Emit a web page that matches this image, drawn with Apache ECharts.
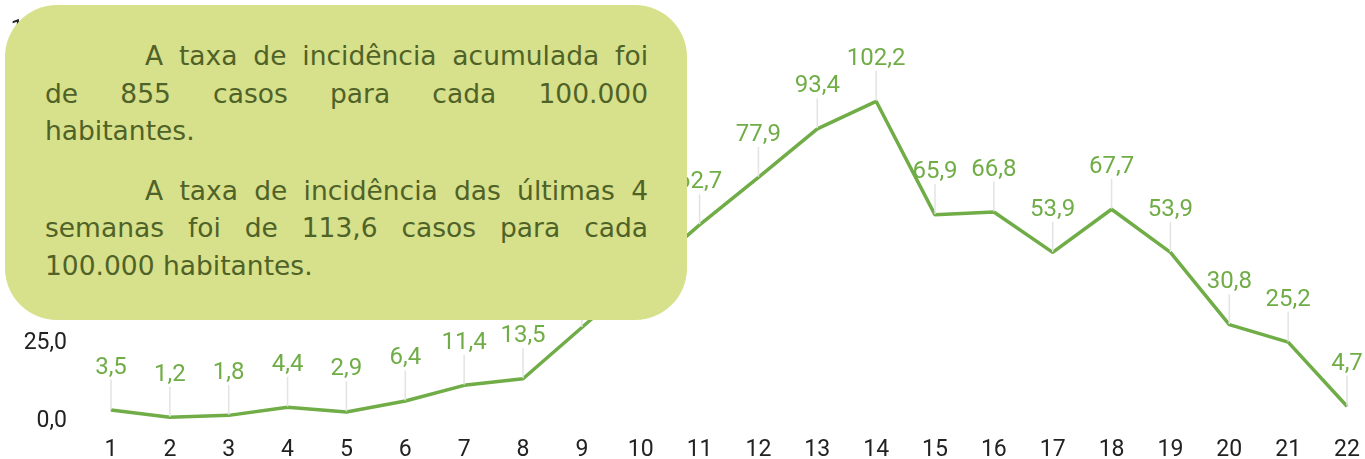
<!DOCTYPE html>
<html>
<head>
<meta charset="utf-8">
<script src="https://cdn.jsdelivr.net/npm/echarts@6/dist/echarts.min.js"></script>
<style>
  html, body { margin: 0; padding: 0; background: #fff; }
  #main { width: 1365px; height: 459px; }
  .nota {
    position: absolute; left: 5px; top: 5px; width: 682px; height: 315px;
    background: #d7e08a; border-radius: 52px;
    box-sizing: border-box; padding: 32px 39px 0 40px;
    font-family: "DejaVu Sans", sans-serif; font-size: 26.5px; color: #4f6228;
    line-height: 37.5px;
  }
  .nota .l { text-align: justify; text-align-last: justify; white-space: nowrap; }
  .nota .last { text-align: left; text-align-last: left; }
  .nota .ind { padding-left: 100px; }
  .nota .gap { height: 22px; }
</style>
</head>
<body>
<div id="main"></div>
<div class="nota">
  <div class="l ind">A taxa de incidência acumulada foi</div>
  <div class="l">de 855 casos para cada 100.000</div>
  <div class="l last">habitantes.</div>
  <div class="gap"></div>
  <div class="l ind">A taxa de incidência das últimas 4</div>
  <div class="l">semanas foi de 113,6 casos para cada</div>
  <div class="l last">100.000 habitantes.</div>
</div>
<script>
// semanas epidemiológicas
var semanas = ['1', '2', '3', '4', '5', '6', '7', '8', '9', '10', '11',
    '12', '13', '14', '15', '16', '17', '18', '19', '20', '21', '22'];

// taxa de incidência por semana (9 e 10 estimadas, escondidas pela caixa)
var taxas = [3.5, 1.2, 1.8, 4.4, 2.9, 6.4, 11.4, 13.5, 29.9, 46.3, 62.7,
    77.9, 93.4, 102.2, 65.9, 66.8, 53.9, 67.7, 53.9, 30.8, 25.2, 4.7];

var yTicks = { min: 0, max: 125, interval: 25 };

var fmt = function(v) {
    return v.toFixed(1).replace('.', ',');
};

var chart = echarts.init(document.getElementById('main'));

var option = {
    animation: false,
    grid: {
        left: 111, right: 18, top: 30, bottom: 38,
        containLabel: false,
        outerBoundsMode: 'none'
    },
    xAxis: {
        type: 'category',
        boundaryGap: false,
        data: semanas,
        axisLine: { show: false },
        axisTick: { show: false },
        axisLabel: {
            color: '#222',
            fontFamily: 'Roboto',
            fontSize: 23,
            margin: 18
        }
    },
    yAxis: {
        type: 'value',
        min: yTicks.min,
        max: yTicks.max,
        interval: yTicks.interval,
        splitLine: { show: false },
        axisLabel: {
            color: '#222',
            fontFamily: 'Roboto',
            fontSize: 23,
            margin: 44,
            padding: [9, 0, 0, 0],
            formatter: fmt
        }
    },
    series: [{
        type: 'line',
        data: taxas,
        symbol: 'circle',
        symbolSize: 1,
        lineStyle: { color: '#70ad47', width: 3.5 },
        itemStyle: { color: '#70ad47' },
        label: {
            show: true,
            position: 'top',
            distance: 2,
            color: '#70ad47',
            fontFamily: 'Roboto',
            fontSize: 24,
            formatter: function(p) { return fmt(p.value); }
        },
        labelLayout: { dy: -28 },
        labelLine: {
            show: true,
            lineStyle: { color: '#e3e3e3', width: 1.5 }
        }
    }]
};

chart.setOption(option);
</script>
</body>
</html>
